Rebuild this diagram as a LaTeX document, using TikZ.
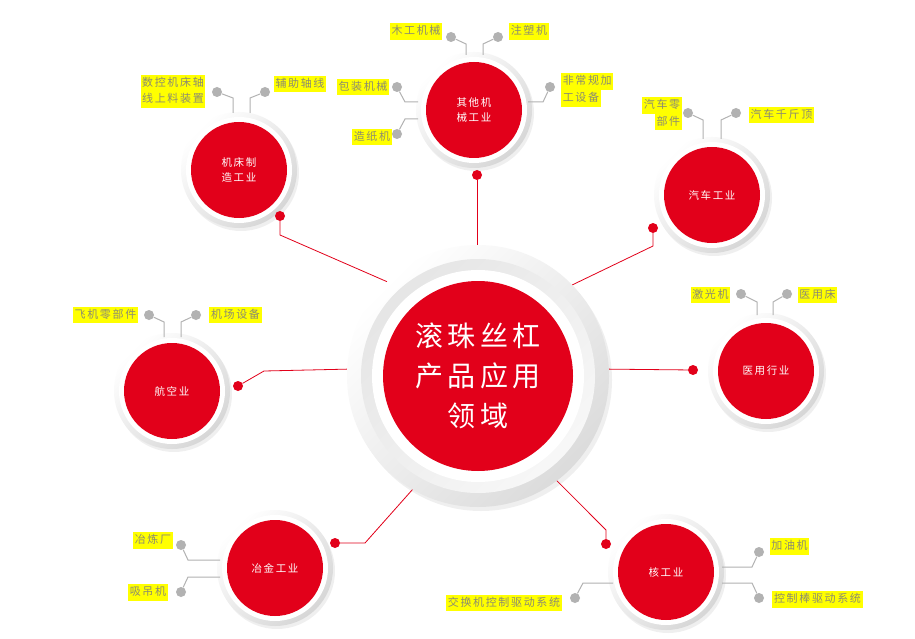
\documentclass[tikz,border=0pt]{standalone}
\usepackage{fontspec}
\usepackage{xcolor}
\usepackage{tikz}
\usetikzlibrary{calc, positioning, shadows}
\newfontfamily\cjk[LetterSpace=15]{Noto Sans CJK SC}
\definecolor{ballred}{RGB}{226,0,26}
\definecolor{tagyellow}{RGB}{255,255,0}
\definecolor{tagtext}{RGB}{140,140,112}
\definecolor{dotgray}{RGB}{178,178,178}

\tikzset{
  haloball/.style={circle, inner sep=0pt, minimum size=116pt, top color=white, bottom color=gray!32, shading angle=45, drop shadow={shadow xshift=2pt, shadow yshift=-3pt, opacity=0.12}},
  whiteball/.style={circle, inner sep=0pt, minimum size=106pt, fill=white},
  redball/.style={circle, inner sep=0pt, minimum size=96pt, fill=ballred, text=white, align=center, font=\cjk\fontsize{10.5}{15}\selectfont},
  gdot/.style={circle, inner sep=0pt, minimum size=10pt, fill=dotgray},
  rdot/.style={circle, inner sep=0pt, minimum size=10pt, fill=ballred},
  tag/.style={fill=tagyellow, text=tagtext, inner xsep=1.6pt, inner ysep=0pt, text height=9.6pt, text depth=3pt, minimum height=16.6pt, font=\cjk\fontsize{11}{13}\selectfont},
  gline/.style={draw=dotgray, line width=1pt},
  rline/.style={draw=ballred, line width=0.8pt}
}

\begin{document}
\begin{tikzpicture}[x=1pt, y=-1pt]
    \fill[white] (0,0) rectangle (915,639);
    \useasboundingbox (0,0) rectangle (915,639);

    % Kern in der Mitte
    \node[circle, inner sep=0pt, minimum size=262pt, top color=white, bottom color=gray!28, shading angle=45, drop shadow={shadow xshift=3pt, shadow yshift=-4pt, opacity=0.12}] (core) at (478,376) {};
    \node[circle, inner sep=0pt, minimum size=234pt, top color=gray!20, bottom color=gray!6, shading angle=45] (coreband) at (478,376) {};
    \node[circle, inner sep=0pt, minimum size=212pt, fill=white] (corewhite) at (478,376) {};
    \node[circle, inner sep=0pt, minimum size=190pt, fill=ballred, text=white, align=center,
          font=\cjk\fontsize{28}{40}\selectfont] (corered) at (478,376) {滚珠丝杠\\产品应用\\领域};

    % Anwendungsbereiche
    \foreach \nm/\pos/\txt in {jc/{239,170}/{机床制\\造工业}, qt/{474,110}/{其他机\\械工业},
        qc/{712,195}/{汽车工业}, hk/{172,391}/{航空业}, yy/{766,371}/{医用行业},
        yj/{275,568}/{冶金工业}, he/{666,572}/{核工业}} {
        \node[haloball] (\nm) at (\pos) {};
        \node[whiteball] (\nm w) at (\pos) {};
        \node[redball] (\nm r) at (\pos) {\txt};
    }

    % rote Verbindungen
    \node[rdot] (rd1) at (280,216) {};
    \node[rdot] (rd2) at (477,175) {};
    \node[rdot] (rd3) at (653,228) {};
    \node[rdot] (rd4) at (238,386) {};
    \node[rdot] (rd5) at (693,370) {};
    \node[rdot] (rd6) at (335,543) {};
    \node[rdot] (rd7) at (606,544) {};
    \draw[rline] (rd1) -- ++(0,19) -- (core.134);
    \draw[rline] (rd2) -- (rd2 |- core.north);
    \draw[rline] (rd3) -- ++(0,18) -- (core.44);
    \draw[rline] (rd4) -- ++(26,-15) -- (core.177);
    \draw[rline] (rd5) -- (core.3);
    \draw[rline] (rd6) -- ++(30,0) -- (core.240);
    \draw[rline] (rd7) -- ++(0,-14) -- (core.307);

    % Beispiele: Werkzeugmaschinen
    \node[gdot] (g1) at (217,92) {};
    \node[gdot] (g2) at (265,92) {};
    \node[tag] (t1a) at (173,83.3) {数控机床轴};
    \node[tag] (t1b) at (173,99.7) {线上料装置};
    \node[tag] (t2) at (300,84) {辅助轴线};
    \draw[gline] (g1) -- ++(16,6) -- ++(0,15);
    \draw[gline] (g2) -- ++(-15,6) -- ++(0,15);

    % sonstige Maschinen
    \node[gdot] (g3) at (451,37) {};
    \node[gdot] (g4) at (498,37) {};
    \node[gdot] (g5) at (397,87) {};
    \node[gdot] (g6) at (397,134) {};
    \node[gdot] (g7) at (550,87) {};
    \node[tag] (t3) at (416,31.5) {木工机械};
    \node[tag] (t4) at (529,31.5) {注塑机};
    \node[tag] (t5) at (363,87) {包装机械};
    \node[tag] (t6) at (372,137) {造纸机};
    \node[tag, anchor=west] (t7a) at (561,81.7) {非常规加};
    \node[tag, anchor=west] (t7b) at (561,98.3) {工设备};
    \draw[gline] (g3) -- ++(15,7) -- ++(0,11);
    \draw[gline] (g4) -- ++(-15,7) -- ++(0,11);
    \draw[gline] (g5) -- ++(8,15) -- ++(13,0);
    \draw[gline] (g6) -- ++(8,-15) -- ++(13,0);
    \draw[gline] (g7) -- ++(-7,15) -- ++(-15,0);

    % Auto
    \node[gdot] (g8) at (688,113) {};
    \node[gdot] (g9) at (736,113) {};
    \node[tag, anchor=east] (t8a) at (682,105.4) {汽车零};
    \node[tag, anchor=east] (t8b) at (682,122) {部件};
    \node[tag] (t9) at (781.5,115) {汽车千斤顶};
    \draw[gline] (g8) -- ++(15,7) -- ++(0,19);
    \draw[gline] (g9) -- ++(-15,7) -- ++(0,19);

    % Luftfahrt
    \node[gdot] (g10) at (149,315) {};
    \node[gdot] (g11) at (196,315) {};
    \node[tag] (t10) at (105.5,315) {飞机零部件};
    \node[tag] (t11) at (235.5,315) {机场设备};
    \draw[gline] (g10) -- ++(15,7) -- ++(0,15);
    \draw[gline] (g11) -- ++(-15,7) -- ++(0,15);

    % Medizin
    \node[gdot] (g12) at (741,294) {};
    \node[gdot] (g13) at (787,294) {};
    \node[tag] (t12) at (710.5,295) {激光机};
    \node[tag] (t13) at (817.5,295) {医用床};
    \draw[gline] (g12) -- ++(16,8) -- ++(0,13);
    \draw[gline] (g13) -- ++(-14,8) -- ++(0,13);

    % Metallurgie
    \node[gdot] (g14) at (181,545) {};
    \node[gdot] (g15) at (181,592) {};
    \node[tag] (t14) at (153,540.5) {冶炼厂};
    \node[tag] (t15) at (148,592.5) {吸吊机};
    \draw[gline] (g14) -- ++(7,15) -- ++(32,0);
    \draw[gline] (g15) -- ++(7,-15) -- ++(32,0);

    % Kernkraft
    \node[gdot] (g16) at (759,552) {};
    \node[gdot] (g17) at (759,598) {};
    \node[gdot] (g18) at (575,598) {};
    \node[tag] (t16) at (789.5,546.5) {加油机};
    \node[tag] (t17) at (817.5,599.5) {控制棒驱动系统};
    \node[tag] (t18) at (504,603) {交换机控制驱动系统};
    \draw[gline] (g16) -- ++(-7,15) -- ++(-30,0);
    \draw[gline] (g17) -- ++(-7,-15) -- ++(-30,0);
    \draw[gline] (g18) -- ++(8,-15) -- ++(30,0);
\end{tikzpicture}
\end{document}
